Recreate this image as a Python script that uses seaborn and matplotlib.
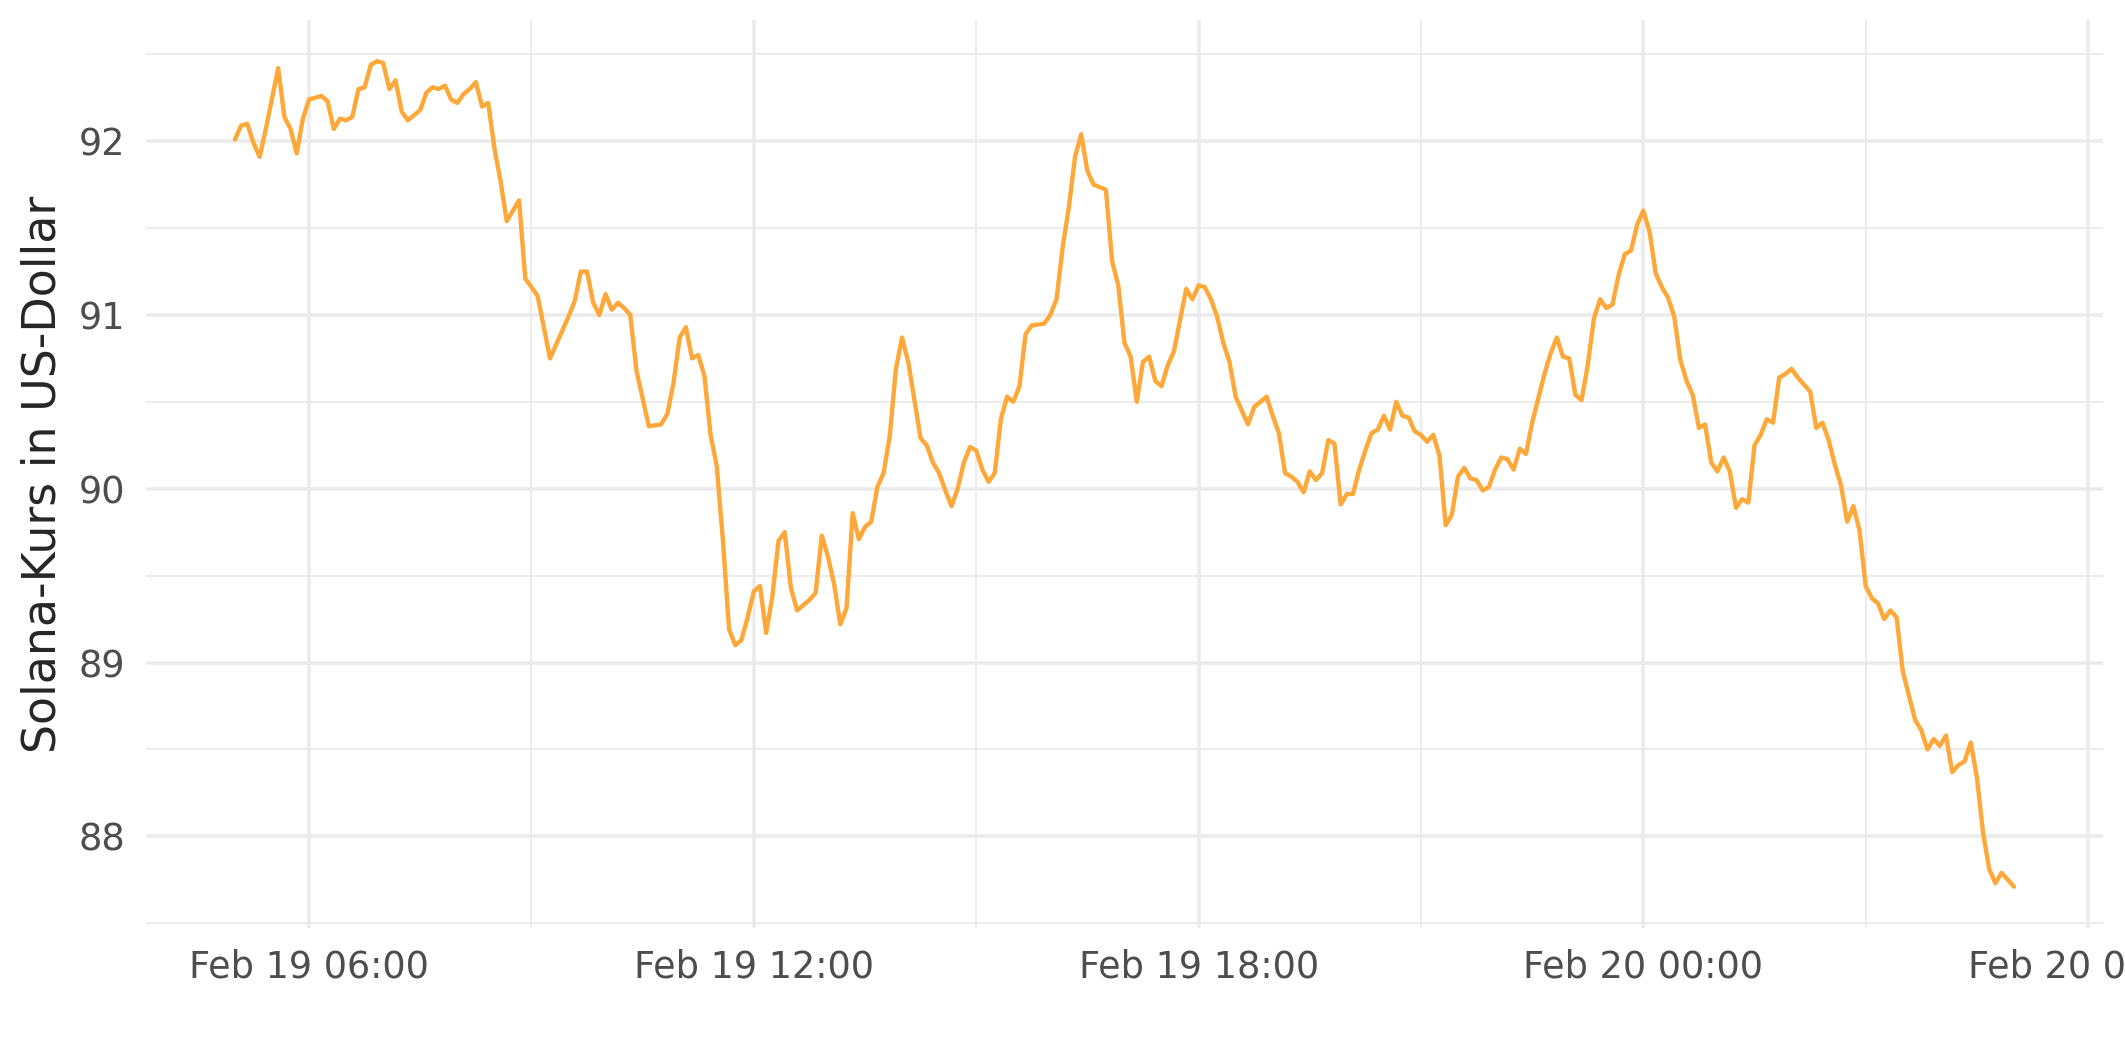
import matplotlib
matplotlib.use("Agg")
import matplotlib.pyplot as plt
import matplotlib.dates as mdates
from matplotlib.ticker import MultipleLocator, StrMethodFormatter
import pandas as pd
import seaborn as sns

# Solana price, Feb 19 05:00 -> Feb 20 05:00
start = "2026-02-19 05:00"

# minutes after start
minutes = [
    0, 5, 10, 15, 20, 25, 35, 40, 45, 50, 55,
    60, 65, 70, 75, 80, 85, 90, 95, 100, 105, 110, 115,
    120, 125, 130, 135, 140, 150, 155, 160, 165, 170, 175,
    180, 185, 190, 195, 200, 205, 210, 215, 220, 230, 235,
    245, 255, 270, 275, 280, 285, 290, 295,
    300, 305, 310, 315, 320, 325, 335, 345, 350, 355,
    360, 365, 370, 375, 380, 385, 390, 395, 400, 405, 410, 415,
    420, 425, 430, 435, 440, 445, 450, 455, 460, 465, 470, 475,
    480, 485, 490, 495, 500, 505, 510, 515, 520, 525, 530, 535,
    540, 545, 550, 555, 560, 565, 570, 575, 580, 585, 590, 595,
    600, 605, 610, 615, 620, 625, 630, 635, 640, 645, 655,
    660, 665, 670, 675, 680, 685, 690, 695, 705, 710, 715,
    720, 725, 730, 735, 740, 745, 750, 755, 760, 765, 770, 775,
    780, 785, 790, 795, 800, 805, 810, 815, 820, 825, 830, 835,
    840, 845, 850, 855, 860, 865, 870, 875, 880, 885, 890, 895,
    900, 905, 910, 915, 920, 925, 930, 935, 940, 945, 950, 955,
    960, 965, 970, 975, 980, 985, 990, 995, 1000, 1005, 1010, 1015,
    1020, 1025, 1030, 1035, 1040, 1045, 1050, 1055, 1060, 1065, 1070, 1075,
    1080, 1085, 1090, 1095, 1100, 1105, 1110, 1115, 1120, 1125, 1130, 1135,
    1140, 1145, 1150, 1155, 1160, 1165, 1170, 1175, 1180, 1185, 1190, 1195,
    1200, 1205, 1210, 1215, 1220, 1225, 1230, 1235, 1240, 1245, 1250, 1255,
    1260, 1265, 1275, 1280, 1285, 1290, 1295, 1300, 1305, 1310, 1315,
    1320, 1325, 1330, 1335, 1340, 1345, 1350, 1355, 1360, 1365, 1370, 1375,
    1380, 1385, 1390, 1395, 1400, 1405, 1410, 1415, 1420, 1425, 1430,
    1440,
]

price = [
    92.01, 92.09, 92.10, 91.99, 91.91, 92.07, 92.42, 92.14, 92.07, 91.93, 92.13,
    92.24, 92.25, 92.26, 92.23, 92.07, 92.13, 92.12, 92.14, 92.30, 92.31, 92.44, 92.46,
    92.45, 92.30, 92.35, 92.17, 92.12, 92.18, 92.28, 92.31, 92.30, 92.32, 92.24,
    92.22, 92.27, 92.30, 92.34, 92.20, 92.22, 91.96, 91.77, 91.54, 91.66, 91.21,
    91.11, 90.75, 90.99, 91.08, 91.25, 91.25, 91.07, 91.00,
    91.12, 91.03, 91.07, 91.04, 91.00, 90.68, 90.36, 90.37, 90.43, 90.61,
    90.87, 90.93, 90.75, 90.77, 90.65, 90.31, 90.13, 89.70, 89.19, 89.10, 89.13, 89.26,
    89.41, 89.44, 89.17, 89.38, 89.70, 89.75, 89.43, 89.30, 89.33, 89.36, 89.40, 89.73,
    89.61, 89.45, 89.22, 89.31, 89.86, 89.71, 89.78, 89.81, 90.01, 90.09, 90.30, 90.69,
    90.87, 90.73, 90.51, 90.29, 90.25, 90.15, 90.09, 89.99, 89.90, 90.00, 90.15, 90.24,
    90.22, 90.11, 90.04, 90.09, 90.40, 90.53, 90.50, 90.59, 90.89, 90.94, 90.95,
    91.00, 91.09, 91.39, 91.62, 91.91, 92.04, 91.83, 91.75, 91.72, 91.31, 91.17,
    90.84, 90.76, 90.50, 90.73, 90.76, 90.62, 90.59, 90.71, 90.79, 90.97, 91.15, 91.09,
    91.17, 91.16, 91.09, 90.99, 90.84, 90.73, 90.53, 90.45, 90.37, 90.47, 90.50, 90.53,
    90.42, 90.32, 90.09, 90.07, 90.04, 89.98, 90.10, 90.05, 90.09, 90.28, 90.26, 89.91,
    89.97, 89.97, 90.11, 90.22, 90.32, 90.34, 90.42, 90.34, 90.50, 90.42, 90.41, 90.33,
    90.31, 90.27, 90.31, 90.19, 89.79, 89.85, 90.07, 90.12, 90.06, 90.05, 89.99, 90.01,
    90.11, 90.18, 90.17, 90.11, 90.23, 90.20, 90.38, 90.52, 90.66, 90.78, 90.87, 90.76,
    90.75, 90.54, 90.51, 90.71, 90.98, 91.09, 91.04, 91.06, 91.23, 91.35, 91.37, 91.52,
    91.60, 91.48, 91.24, 91.16, 91.10, 90.99, 90.74, 90.62, 90.54, 90.35, 90.37, 90.15,
    90.10, 90.18, 90.10, 89.89, 89.94, 89.92, 90.25, 90.31, 90.40, 90.38, 90.64, 90.66,
    90.69, 90.64, 90.56, 90.35, 90.38, 90.28, 90.14, 90.02, 89.81, 89.90, 89.76,
    89.44, 89.37, 89.34, 89.25, 89.30, 89.26, 88.95, 88.81, 88.67, 88.61, 88.50, 88.56,
    88.52, 88.58, 88.37, 88.41, 88.43, 88.54, 88.34, 88.02, 87.81, 87.73, 87.79,
    87.71,
]

assert len(minutes) == len(price)

df = pd.DataFrame({
    "zeit": pd.Timestamp(start) + pd.to_timedelta(minutes, unit="min"),
    "kurs": price,
})

sns.set_style("white")
plt.rcParams["font.family"] = ["DejaVu Sans"]

fig = plt.figure(figsize=(2125 / 300, 1062 / 300), dpi=300)
ax = fig.add_axes([0.0687, 0.1262, 0.9209, 0.855])

sns.lineplot(data=df, x="zeit", y="kurs", color="#FFA83A", linewidth=1.05, ax=ax)
ax.margins(x=0.05, y=0.05)

# axes / grid in ggplot theme_minimal look
ax.xaxis.set_major_locator(mdates.HourLocator(byhour=[0, 6, 12, 18]))
ax.xaxis.set_minor_locator(mdates.HourLocator(byhour=[3, 9, 15, 21]))
ax.xaxis.set_major_formatter(mdates.DateFormatter("%b %d %H:%M"))
ax.yaxis.set_major_locator(MultipleLocator(1))
ax.yaxis.set_minor_locator(MultipleLocator(0.5))
ax.yaxis.set_major_formatter(StrMethodFormatter("{x:.0f}"))

ax.grid(which="major", color="#EBEBEB", linewidth=0.85)
ax.grid(which="minor", color="#EBEBEB", linewidth=0.45)
ax.set_axisbelow(True)
for s in ax.spines.values():
    s.set_visible(False)
ax.tick_params(which="both", length=0, pad=5, labelsize=8.8, labelcolor="#4D4D4D")

ax.set_xlabel("")
ax.set_ylabel("Solana-Kurs in US-Dollar", fontsize=11, labelpad=3)

fig.savefig("out.png", dpi=300)
